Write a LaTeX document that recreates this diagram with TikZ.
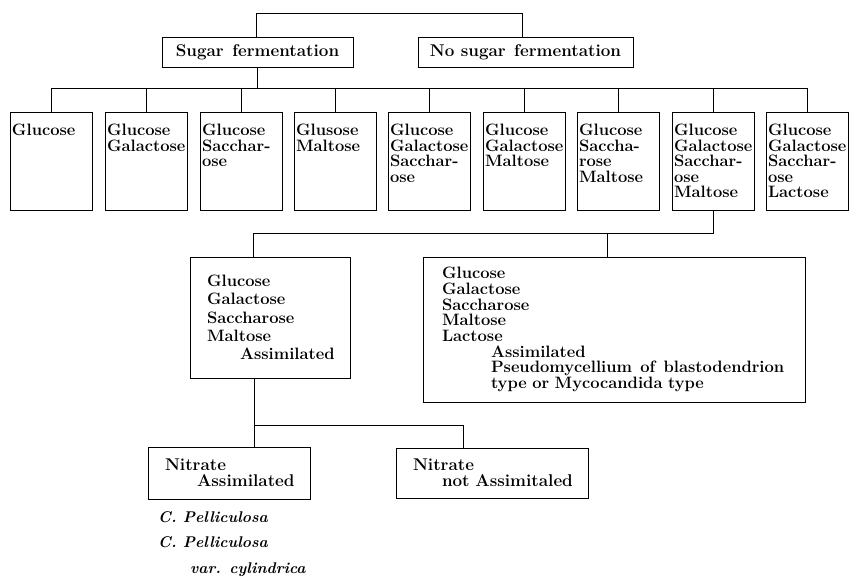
\documentclass[tikz,border=0pt]{standalone}
\usepackage{tikz}
\usetikzlibrary{positioning}
\newcommand{\rowtxt}[1]{\parbox[c][98pt][t]{82pt}{\raggedright\leftskip=1.5pt\rule{0pt}{23pt}#1}}
\tikzstyle{line} = [line width=1pt]
\tikzstyle{headbox} = [draw,line width=1pt,minimum height=30pt,inner sep=0pt,font=\fontsize{17}{17}\selectfont\bfseries]
\tikzstyle{rowbox} = [draw,line width=1pt,anchor=north west,inner sep=0pt,font=\fontsize{16.5}{15.5}\selectfont\bfseries]
\tikzstyle{listbox} = [draw,line width=1pt,align=left,inner xsep=2pt,inner ysep=0pt]
\begin{document}
\begin{tikzpicture}[x=1pt,y=-1pt]
  \useasboundingbox (0,0) rectangle (849,576);
  % fermentation
  \node[headbox,minimum width=191pt] (sugar) at (257.5,52) {Sugar\enspace fermentation};
  \node[headbox,minimum width=215pt] (nosugar) at (525.5,52) {No sugar\enspace fermentation};
  \coordinate (topL) at (256,13);
  \coordinate (topR) at (522,13);
  \coordinate (bus) at (0,88);
  \draw[line] (sugar.north -| topL) -- (topL) -- (topR) -- (nosugar.north -| topR);

  % sugars
  \node[rowbox] (b1) at (10,112) {\rowtxt{Glucose}};
  \node[rowbox] (b2) at (105,112) {\rowtxt{Glucose\\Galactose}};
  \node[rowbox] (b3) at (200,112) {\rowtxt{Glucose\\Sacchar-\\ose}};
  \node[rowbox] (b4) at (294,112) {\rowtxt{Glusose\\Maltose}};
  \node[rowbox] (b5) at (388,112) {\rowtxt{Glucose\\Galactose\\Sacchar-\\ose}};
  \node[rowbox] (b6) at (483,112) {\rowtxt{Glucose\\Galactose\\Maltose}};
  \node[rowbox] (b7) at (577,112) {\rowtxt{Glucose\\Saccha-\\rose\\Maltose}};
  \node[rowbox] (b8) at (672,112) {\rowtxt{Glucose\\Galactose\\Sacchar-\\ose\\Maltose}};
  \node[rowbox] (b9) at (766,112) {\rowtxt{Glucose\\Galactose\\Sacchar-\\ose\\Lactose}};
  \draw[line] (sugar.south) -- (sugar.south |- bus);
  \draw[line] (b1.north) -- (b1.north |- bus) -- (b9.north |- bus) -- (b9.north);
  \foreach \i in {2,...,8}
    \draw[line] (b\i.north) -- (b\i.north |- bus);

  % assimilation
  \node[listbox,minimum width=160pt,minimum height=121pt,text width=156pt,
        font=\fontsize{16.5}{18.3}\selectfont\bfseries] (assim) at (270,317.5)
        {\leftskip=15pt Glucose\\Galactose\\Saccharose\\Maltose\\\hspace*{33pt}Assimilated\par};
  \node[listbox,minimum width=382pt,minimum height=145pt,text width=378pt,
        font=\fontsize{16.5}{15.7}\selectfont\bfseries] (lact) at (614,329.5)
        {\leftskip=17pt Glucose\\Galactose\\Saccharose\\Maltose\\Lactose\\
         \hspace*{49pt}Assimilated\\
         \hspace*{49pt}Pseudomycellium\enspace of\enspace blastodendrion\\
         \hspace*{49pt}type or Mycocandida type\par};
  \coordinate (subL) at (253,233);
  \coordinate (subR) at (607,233);
  \draw[line] (b8.south) |- (subL) -- (subL |- assim.north);
  \draw[line] (subR) -- (subR |- lact.north);

  % nitrate
  \node[listbox,minimum width=162pt,minimum height=52pt,text width=158pt,
        font=\fontsize{17}{16}\selectfont\bfseries] (nityes) at (229,473)
        {\leftskip=15pt Nitrate\\\hspace*{32pt}Assimilated\par};
  \node[listbox,minimum width=192pt,minimum height=50pt,text width=188pt,
        font=\fontsize{17}{16}\selectfont\bfseries] (nitno) at (492,473)
        {\leftskip=15pt Nitrate\\\hspace*{29pt}not Assimitaled\par};
  \coordinate (nitL) at (254,425);
  \coordinate (nitR) at (463,425);
  \draw[line] (assim.south -| nitL) -- (nityes.north -| nitL);
  \draw[line] (nitL) -- (nitR) -- (nitR |- nitno.north);

  \node[align=left,anchor=north west,inner sep=0pt,
        font=\fontsize{15.5}{25.5}\selectfont\bfseries\itshape] (species) at (158,511)
        {C. Pelliculosa\\C. Pelliculosa\\\hspace*{32pt}var. cylindrica};
\end{tikzpicture}
\end{document}
